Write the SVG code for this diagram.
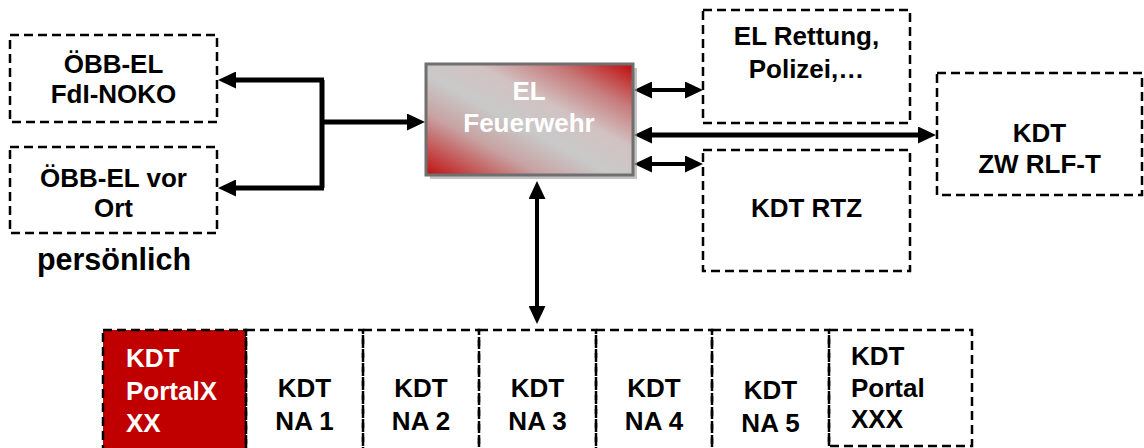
<svg xmlns="http://www.w3.org/2000/svg" width="1144" height="448" viewBox="0 0 1144 448">
<style>
.box{fill:#fff;stroke:#000;stroke-width:2.5;stroke-dasharray:9 5}
.t{font-family:"Liberation Sans",Arial,sans-serif;font-weight:bold;font-size:26px;fill:#000}
.c{text-anchor:middle}
.w{fill:#fff}
.con{stroke:#000;fill:none}
</style>
<defs>
<marker id="ah" markerUnits="userSpaceOnUse" markerWidth="18" markerHeight="17" viewBox="0 0 18 17" refX="12" refY="8.5" orient="auto-start-reverse">
<path d="M0,0 L18,8.5 L0,17 z" fill="#000"/>
</marker>
<linearGradient id="g" x1="1" y1="0" x2="0" y2="1">
<stop offset="0" stop-color="#c00a0a"/>
<stop offset="0.2" stop-color="#c77a7a"/>
<stop offset="0.38" stop-color="#d2c2c2"/>
<stop offset="0.55" stop-color="#c9c9c9"/>
<stop offset="0.72" stop-color="#c8a2a2"/>
<stop offset="1" stop-color="#c01010"/>
</linearGradient>
</defs>

<g id="conn">
<path class="con" stroke-width="5" d="M322,80 L322,188"/>
<path class="con" stroke-width="5" d="M324,80 L224,80" marker-end="url(#ah)"/>
<path class="con" stroke-width="5" d="M324,188 L224,188" marker-end="url(#ah)"/>
<path class="con" stroke-width="5" d="M322,122 L419,122" marker-end="url(#ah)"/>
<path class="con" stroke-width="4" d="M640,90 L697,90" marker-start="url(#ah)" marker-end="url(#ah)"/>
<path class="con" stroke-width="5" d="M640,135 L930,135" marker-start="url(#ah)" marker-end="url(#ah)"/>
<path class="con" stroke-width="4" d="M640,164 L697,164" marker-start="url(#ah)" marker-end="url(#ah)"/>
<path class="con" stroke-width="4" d="M537,187 L537,318" marker-start="url(#ah)" marker-end="url(#ah)"/>
</g>

<g id="oebb-noko">
<rect class="box" x="10" y="35" width="207" height="87"/>
<text class="t c" x="113.5" y="73">ÖBB-EL</text>
<text class="t c" x="113.5" y="103">FdI-NOKO</text>
</g>
<g id="oebb-vor-ort">
<rect class="box" x="10" y="147" width="207" height="86"/>
<text class="t c" x="113.5" y="187">ÖBB-EL vor</text>
<text class="t c" x="113.5" y="217">Ort</text>
</g>
<text class="t c" x="114" y="270" style="font-size:30.5px">persönlich</text>

<g id="el-feuerwehr">
<rect x="430" y="68" width="207" height="111" fill="#9a9a9a" opacity="0.6"/>
<rect x="426" y="64" width="207" height="111" fill="url(#g)" stroke="#6f6f6f" stroke-width="3"/>
<text class="t c w" x="529" y="100">EL</text>
<text class="t c w" x="529" y="132">Feuerwehr</text>
</g>

<g id="el-rettung">
<rect class="box" x="703" y="10" width="207" height="113"/>
<text class="t c" x="806.5" y="45">EL Rettung,</text>
<text class="t c" x="806.5" y="78">Polizei,…</text>
</g>
<g id="kdt-rtz">
<rect class="box" x="703" y="150" width="207" height="121"/>
<text class="t c" x="806.5" y="217">KDT RTZ</text>
</g>
<g id="kdt-zw">
<rect class="box" x="937" y="73" width="205" height="122"/>
<text class="t c" x="1039.5" y="142">KDT</text>
<text class="t c" x="1039.5" y="173">ZW RLF-T</text>
</g>

<g id="kdt-portalxxx-red">
<rect class="box" x="103" y="330" width="143" height="122" style="fill:#c00000"/>
<text class="t w" x="126" y="367">KDT</text>
<text class="t w" x="126" y="400">PortalX</text>
<text class="t w" x="126" y="432">XX</text>
</g>
<g id="kdt-na1">
<rect class="box" x="246" y="330" width="117" height="122" style="fill:none"/>
<text class="t c" x="304.5" y="397">KDT</text>
<text class="t c" x="304.5" y="430">NA 1</text>
</g>
<g id="kdt-na2">
<rect class="box" x="363" y="330" width="116" height="122" style="fill:none"/>
<text class="t c" x="421" y="397">KDT</text>
<text class="t c" x="421" y="430">NA 2</text>
</g>
<g id="kdt-na3">
<rect class="box" x="479" y="330" width="117" height="122" style="fill:none"/>
<text class="t c" x="537.5" y="397">KDT</text>
<text class="t c" x="537.5" y="430">NA 3</text>
</g>
<g id="kdt-na4">
<rect class="box" x="596" y="330" width="116" height="122" style="fill:none"/>
<text class="t c" x="654" y="397">KDT</text>
<text class="t c" x="654" y="430">NA 4</text>
</g>
<g id="kdt-na5">
<rect class="box" x="712" y="330" width="117" height="122" style="fill:none"/>
<text class="t c" x="770.5" y="399">KDT</text>
<text class="t c" x="770.5" y="432">NA 5</text>
</g>
<g id="kdt-portal-xxx">
<rect class="box" x="829" y="330" width="143" height="116" style="fill:none"/>
<text class="t" x="851" y="365">KDT</text>
<text class="t" x="851" y="397">Portal</text>
<text class="t" x="851" y="428">XXX</text>
</g>
</svg>
